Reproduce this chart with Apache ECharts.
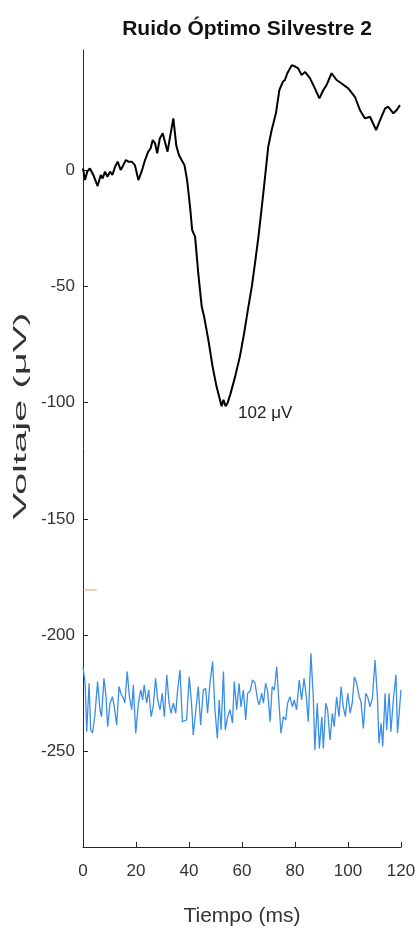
<!DOCTYPE html>
<html>
<head>
<meta charset="utf-8">
<script src="https://cdn.jsdelivr.net/npm/echarts@6/dist/echarts.min.js"></script>
<style>
html,body{margin:0;padding:0;background:#fff;}
#chart{width:419px;height:938px;}
</style>
</head>
<body>
<div id="chart"></div>
<script>
// ---- data ----
const titleText = 'Ruido Óptimo Silvestre 2';
const xAxisTitle = 'Tiempo (ms)';
const yAxisTitle = 'Voltaje (μV)';
const peakLabel = '102 μV';
const peakAt = [57, -104.5];
const xTicks = [0, 20, 40, 60, 80, 100, 120];
const yTicks = [-250, -200, -150, -100, -50, 0];

// averaged response (black)
const erpTime = [0,0.75,1.6,2.6,3.9,5.5,6.7,7.4,8.3,9.2,10.2,11.1,12.1,13.1,14.2,15.2,16.2,17.1,18.4,19.6,20.9,22.1,23.4,24.6,25.5,26.3,27.2,28,29,30.1,30.9,31.9,33.1,34.1,35.2,36.2,37.2,38.3,39.3,40.4,41.2,42.3,43.5,44.8,45.7,47.3,48.9,50.4,51.7,52.3,53,53.8,54.6,55.7,57.4,59.2,60.8,62,63.7,64.9,66.2,67.2,68.3,69.9,71.2,72.8,74.1,75.4,76.2,77.1,77.8,78.8,79.4,80.2,81.2,82.5,83.8,85.7,87.5,89.2,90.7,91.9,93.8,95.7,97.6,100.1,102.6,104.5,106.4,108.3,110.6,112.1,114,115.2,117.1,118.4,119.6];
const erpValue = [0.7,-4.3,-0.7,0.7,-2.1,-6.9,-2.1,-3.6,-0.7,-2.9,-0.7,-2.1,1.4,3.6,0,2.1,4.3,3.6,3.6,2.1,-4.3,-0.7,4.3,7.9,9.3,12.9,11.5,7.2,13.6,15.8,12.2,7.9,15.8,22.2,10.5,6.5,4.3,2.1,-4.5,-15.8,-25.8,-28.7,-44.4,-58.7,-63,-73,-84.5,-93.1,-98.8,-101.5,-98.8,-101.5,-100,-96,-88.8,-80.2,-70.2,-61.6,-50.1,-40.1,-28.7,-18.6,-7.2,10,17.2,24.4,34.4,37.9,38.7,41.6,42.2,45.1,45.9,44.4,43.7,40.8,42.2,39.4,35.1,30.8,34.4,36.5,41.6,38.7,37.2,35.1,31.5,25.8,22.2,22.9,17.2,21.5,26.5,27.2,24.4,25.8,27.9];

// noise trace (blue)
const noiseTime = [0,0.8,1.4,2.3,2.9,3.6,4.5,5.5,6.4,7.0,7.9,8.7,9.3,10.2,11.1,11.8,12.7,13.6,14.3,15.2,15.8,16.7,17.5,18.4,19.0,19.9,20.9,21.8,22.5,23.1,24.0,24.8,25.7,26.5,27.4,28.2,29.1,29.9,30.7,31.6,32.5,33.2,34.1,35.0,35.7,36.6,37.5,38.2,39.1,40.1,41.0,41.6,42.6,43.5,44.4,45.4,46.3,47.0,47.9,48.9,49.8,50.7,51.4,52.1,53.0,53.7,54.6,55.5,56.4,57.1,58.0,58.9,59.6,60.5,61.4,62.1,63.0,64.0,64.9,65.9,66.5,67.4,68.1,68.9,69.7,70.6,71.4,72.2,73.1,73.8,74.7,75.6,76.5,77.2,78.1,79.0,79.7,80.6,81.6,82.5,83.4,84.2,85.0,86.0,86.9,87.5,88.4,89.2,90.1,90.7,91.6,92.3,93.2,94.1,94.8,95.7,96.6,97.4,98.2,99.0,99.9,100.8,101.6,102.4,103.3,104.2,104.9,105.8,106.7,107.4,108.3,109.2,110.2,111.1,111.7,112.5,113.1,114.0,114.6,115.5,116.2,117.1,118.1,118.7,119.4,120.0];
const noiseValue = [-213.5,-220.6,-241.4,-220.6,-240.7,-242,-234.2,-219.9,-232,-235,-218.5,-226.4,-239.3,-229.2,-226.4,-230.7,-238.5,-222,-225,-227,-229,-215.6,-226.4,-232,-221.3,-242.1,-229.2,-223.5,-227.8,-221.3,-229.2,-223.5,-235,-230.7,-218.5,-227.8,-232,-224.9,-235,-217,-229.2,-233.5,-229.2,-233.5,-223.5,-214.9,-237.1,-237.1,-236.4,-217.8,-229.9,-242.8,-232,-222,-238.5,-223.5,-222.8,-233.5,-220.6,-211.3,-232,-244.3,-227.8,-240.7,-215.6,-240.7,-235,-232,-237.8,-219.9,-232,-220.6,-230.7,-223.5,-236.4,-224.9,-224.2,-219.2,-220.6,-227.8,-229.9,-224.9,-229.2,-220.6,-224.2,-237.1,-222,-223.5,-213.5,-226.4,-242.1,-235,-236.4,-229.2,-226.4,-230.7,-227.8,-232,-219.2,-227.8,-218.5,-225.6,-237.1,-207.7,-226.4,-249.3,-229.2,-248.6,-235,-248.6,-229.2,-232,-245,-233.5,-239.3,-226.4,-235,-222,-230.7,-235,-224.9,-233.5,-229.2,-217.8,-220.6,-226.4,-228.5,-240,-224.9,-226.4,-230.7,-227.1,-210.6,-226.4,-246.4,-237.8,-247.8,-224.9,-240.7,-224.9,-241.4,-227.8,-217,-242.1,-242.1,-223.5];

// short marker segment (orange)
const markerTime = [0, 5.2];
const markerValue = [-180.5, -180.5];

const zip = (a, b) => a.map((t, i) => [t, b[i]]);

const FONT = "'Liberation Sans', Arial, sans-serif";
const TXT = '#333333';

const chart = echarts.init(document.getElementById('chart'), null, {renderer: 'canvas'});
chart.setOption({
  animation: false,
  backgroundColor: '#ffffff',
  title: {
    text: titleText,
    left: 242, top: 14, textAlign: 'center',
    textStyle: {fontFamily: FONT, fontSize: 21, fontWeight: 'bold', color: '#111'}
  },
  grid: {left: 83, right: 18, top: 50, bottom: 91, containLabel: false},
  xAxis: {
    type: 'value', min: 0, max: 120, interval: 20,
    name: xAxisTitle, nameLocation: 'middle', nameGap: 59,
    nameTextStyle: {fontFamily: FONT, fontSize: 21, color: TXT},
    axisLine: {show: true, onZero: false, lineStyle: {color: '#262626', width: 1}},
    axisTick: {show: true, inside: true, length: 5, lineStyle: {color: '#262626'}},
    axisLabel: {fontFamily: FONT, fontSize: 17, color: TXT, margin: 16},
    splitLine: {show: false}
  },
  yAxis: {
    type: 'value', min: -291, max: 51.6,
    axisLine: {show: true, onZero: false, lineStyle: {color: '#262626', width: 1}},
    axisTick: {show: true, inside: true, length: 5, customValues: yTicks, lineStyle: {color: '#262626'}},
    axisLabel: {fontFamily: FONT, fontSize: 17, color: TXT, margin: 8, customValues: yTicks},
    splitLine: {show: false}
  },
  graphic: [{
    type: 'text', x: 21, y: 416, rotation: Math.PI / 2, scaleX: 2.1,
    style: {text: yAxisTitle, fontFamily: FONT, fontSize: 19, fill: TXT, align: 'center', verticalAlign: 'middle'}
  }],
  series: [
    {
      type: 'line', data: zip(erpTime, erpValue), showSymbol: false, symbol: 'none',
      lineStyle: {color: '#000', width: 2}, z: 3,
      markPoint: {
        symbol: 'circle', symbolSize: 0,
        data: [{coord: peakAt, value: peakLabel}],
        label: {show: true, position: 'right', distance: 4, formatter: peakLabel, fontFamily: FONT, fontSize: 17, color: '#222'}
      }
    },
    {
      type: 'line', data: zip(noiseTime, noiseValue), showSymbol: false, symbol: 'none',
      lineStyle: {color: '#3a8ee6', width: 1.3}, z: 2
    },
    {
      type: 'line', data: zip(markerTime, markerValue), showSymbol: false, symbol: 'none',
      lineStyle: {color: '#d4a27a', width: 1}, z: 1
    }
  ]
});
</script>
</body>
</html>
